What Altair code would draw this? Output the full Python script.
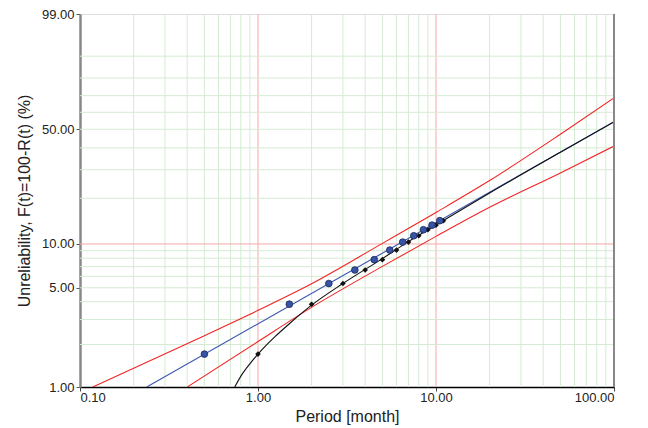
import altair as alt
import numpy as np
import pandas as pd

# ---- data ----
period_obs = [1, 2, 3, 4, 5, 6, 7, 8, 9, 10, 11]                      # black points (t)
period_adj = [0.5, 1.5, 2.5, 3.5, 4.5, 5.5, 6.5, 7.5, 8.5, 9.5, 10.5]  # blue points (t - gamma)
unrel_pct = [1.71, 3.84, 5.35, 6.64, 7.82, 9.09, 10.29, 11.36, 12.46, 13.37, 14.30]

fit_x = [0.237, 100]
fit_F = [1.0, 54.4]

curve_x = [0.74, 0.8, 0.9, 1.0, 1.25, 1.5, 2, 3, 5, 7, 10, 20, 50, 100]
curve_F = [1.0, 1.19, 1.46, 1.71, 2.28, 2.80, 3.78, 5.35, 7.95, 10.37, 13.4, 21.6, 37.8, 54.3]

upper_x = [0.118, 0.5, 1, 2, 5, 10, 20, 50, 100]
upper_F = [1.0, 2.31, 3.48, 5.33, 10.09, 16.2, 25.8, 47.2, 68.7]

lower_x = [0.40, 1, 2, 5, 10, 20, 50, 100]
lower_F = [1.0, 2.10, 3.65, 7.03, 11.25, 17.5, 28.7, 40.9]

x_ticks = [0.1, 1, 10, 100]
y_ticks = [1, 5, 10, 50, 99]
x_grid_green = [0.2, 0.3, 0.4, 0.5, 0.6, 0.7, 0.8, 0.9, 2, 3, 4, 5, 6, 7, 8, 9,
                20, 30, 40, 50, 60, 70, 80, 90]
x_grid_red = [1, 10]
y_grid_green = [2, 3, 4, 5, 6, 7, 8, 9, 20, 30, 40, 50, 60, 70, 80, 90]
y_grid_red = [10]


def W(p):
    p = np.asarray(p, dtype=float) / 100.0
    return np.log(-np.log(1.0 - p))


W_LO, W_HI = float(W(1)), float(W(99))

pts_blue = pd.DataFrame({"x": period_adj, "w": W(unrel_pct)})
pts_black = pd.DataFrame({"x": period_obs, "w": W(unrel_pct)})
fit = pd.DataFrame({"x": fit_x, "w": W(fit_F)})
curve = pd.DataFrame({"x": curve_x, "w": W(curve_F)})
bounds = pd.concat([
    pd.DataFrame({"x": upper_x, "w": W(upper_F), "b": "upper"}),
    pd.DataFrame({"x": lower_x, "w": W(lower_F), "b": "lower"}),
])
xg_green = pd.DataFrame({"x": x_grid_green})
xg_red = pd.DataFrame({"x": x_grid_red})
yg_green = pd.DataFrame({"w": W(y_grid_green)})
yg_red = pd.DataFrame({"w": W(y_grid_red)})

FONT = "Liberation Sans"
xscale = alt.Scale(type="log", domain=[0.1, 100], nice=False)
yscale = alt.Scale(domain=[W_LO, W_HI], nice=False, zero=False)

x_axis = alt.Axis(values=x_ticks, format=".2f", grid=False, title="Period [month]",
                  labelFont=FONT, labelFontSize=13, labelColor="#222",
                  titleFont=FONT, titleFontSize=16, titleFontWeight="normal",
                  titleColor="#222", titlePadding=4, tickSize=4, tickColor="#444",
                  labelPadding=0, domainColor="#000", domainWidth=1.5)
y_axis = alt.Axis(values=[float(v) for v in W(y_ticks)],
                  labelExpr="format(100*(1-exp(-exp(datum.value))), '.2f')",
                  grid=False, title="Unreliability, F(t)=100-R(t) (%)",
                  labelFont=FONT, labelFontSize=13, labelColor="#222",
                  titleFont=FONT, titleFontSize=16, titleFontWeight="normal",
                  titleColor="#222", titlePadding=9, tickSize=4, tickColor="#555",
                  labelPadding=2, domainColor="#888", domainWidth=2.5)


def X():
    return alt.X("x:Q", scale=xscale, axis=x_axis)


def Y():
    return alt.Y("w:Q", scale=yscale, axis=y_axis)


grid_vg = alt.Chart(xg_green).mark_rule(color="#d6ebd3", strokeWidth=1).encode(x=X())
grid_vr = alt.Chart(xg_red).mark_rule(color="#f5a8a8", strokeWidth=1).encode(x=X())
grid_hg = alt.Chart(yg_green).mark_rule(color="#d6ebd3", strokeWidth=1).encode(y=Y())
grid_hr = alt.Chart(yg_red).mark_rule(color="#f5a8a8", strokeWidth=1).encode(y=Y())
right_border = alt.Chart(xg_red).mark_rule(color="#888", strokeWidth=2).encode(
    x=alt.X(datum=100, type="quantitative", scale=xscale, axis=x_axis))

bound_lines = alt.Chart(bounds).mark_line(color="#f32424", strokeWidth=1.1,
                                          interpolate="monotone", clip=True).encode(
    x=X(), y=Y(), detail="b:N")
fit_line = alt.Chart(fit).mark_line(color="#3a55b0", strokeWidth=1.1, clip=True).encode(
    x=X(), y=Y())
curve_line = alt.Chart(curve).mark_line(color="#111", strokeWidth=1.1,
                                        interpolate="monotone", clip=True).encode(
    x=X(), y=Y())
black_pts = alt.Chart(pts_black).mark_point(shape="diamond", filled=True, size=32,
                                            color="#111", opacity=1).encode(x=X(), y=Y())
blue_pts = alt.Chart(pts_blue).mark_point(shape="circle", filled=True, size=45,
                                          fill="#3653a6", stroke="#1b2757",
                                          strokeWidth=0.8, opacity=1).encode(x=X(), y=Y())

chart = alt.layer(
    grid_vg, grid_vr, grid_hg, grid_hr,
    bound_lines, fit_line, curve_line, black_pts, blue_pts, right_border
).properties(
    width=534, height=373,
    autosize=alt.AutoSizeParams(type="none"),
    padding={"left": 72, "top": 6, "right": 20, "bottom": 40},
).configure_view(stroke="#000", strokeWidth=1.5).configure(background="white")

chart.save("out.html", embed_options={"renderer": "svg", "actions": False})
